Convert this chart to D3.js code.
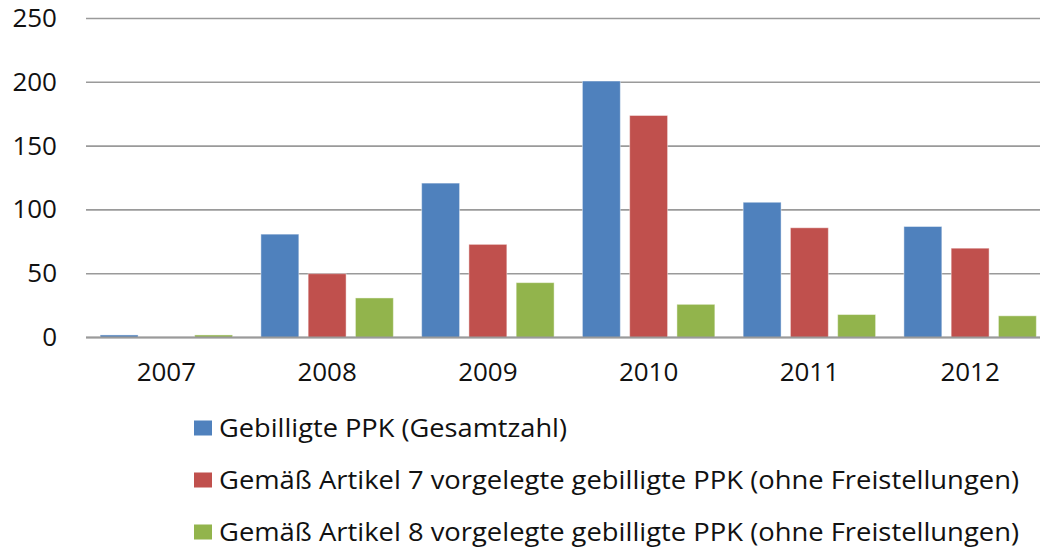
<!DOCTYPE html>
<html>
<head>
<meta charset="utf-8">
<script src="https://cdn.jsdelivr.net/npm/d3@7"></script>
<style>
  body { margin: 0; background: #fff; }
  svg { display: block; font-family: "Open Sans", sans-serif; }
</style>
</head>
<body>
<div id="chart"></div>
<script>
  // data
  const years = ["2007", "2008", "2009", "2010", "2011", "2012"];
  const seriesNames = [
    "Gebilligte PPK (Gesamtzahl)",
    "Gemäß Artikel 7 vorgelegte gebilligte PPK (ohne Freistellungen)",
    "Gemäß Artikel 8 vorgelegte gebilligte PPK (ohne Freistellungen)"
  ];
  const gesamt = [2, 81, 121, 201, 106, 87];
  const artikel7 = [0, 50, 73, 174, 86, 70];
  const artikel8 = [2, 31, 43, 26, 18, 17];
  const yTicks = [0, 50, 100, 150, 200, 250];
  const colors = ["#4f81bd", "#c0504d", "#92b44c"];

  const width = 1040;
  const height = 547;
  const plot = { left: 86, right: 1050.5, top: 18.5, bottom: 337.5 };

  const series = [gesamt, artikel7, artikel8];

  const svg = d3.select("#chart")
    .append("svg")
    .attr("width", width)
    .attr("height", height);

  const x = d3.scaleBand()
    .domain(years)
    .range([plot.left, plot.right]);

  const y = d3.scaleLinear()
    .domain([0, 250])
    .range([plot.bottom, plot.top]);

  // gridlines
  svg.append("g")
    .selectAll("line")
    .data(yTicks)
    .enter()
    .append("line")
    .attr("x1", plot.left)
    .attr("x2", width)
    .attr("y1", d => y(d))
    .attr("y2", d => y(d))
    .attr("stroke", "#9a9a9a")
    .attr("stroke-width", 1.6);

  // y labels
  svg.append("g")
    .selectAll("text")
    .data(yTicks)
    .enter()
    .append("text")
    .attr("x", 57)
    .attr("y", d => y(d) + 8.5)
    .attr("text-anchor", "end")
    .attr("font-size", 26)
    .attr("fill", "#111")
    .text(d => d);

  // bars
  const bw = x.bandwidth();
  const barW = bw * 0.236;
  const step = bw * 0.294;

  series.forEach((vals, i) => {
    svg.append("g")
      .selectAll("rect")
      .data(vals)
      .enter()
      .append("rect")
      .attr("x", (d, j) => x(years[j]) + bw / 2 + (i - 1) * step - barW / 2)
      .attr("y", d => y(d))
      .attr("width", barW)
      .attr("height", d => y(0) - y(d))
      .attr("fill", colors[i])
      .attr("stroke", "rgba(255,255,255,0.45)")
      .attr("stroke-width", 1);
  });

  // baseline over the bars
  svg.append("line")
    .attr("x1", plot.left)
    .attr("x2", width)
    .attr("y1", y(0))
    .attr("y2", y(0))
    .attr("stroke", "#9a9a9a")
    .attr("stroke-width", 1.8);

  // x labels
  svg.append("g")
    .selectAll("text")
    .data(years)
    .enter()
    .append("text")
    .attr("x", d => x(d) + bw / 2)
    .attr("y", 380.5)
    .attr("text-anchor", "middle")
    .attr("font-size", 26)
    .attr("fill", "#111")
    .text(d => d);

  // legend
  const legendEnds = [568, 1020, 1020];
  const legend = svg.append("g")
    .selectAll("g")
    .data(seriesNames)
    .enter()
    .append("g")
    .attr("transform", (d, i) => `translate(194,${428 + i * 52})`);

  legend.append("rect")
    .attr("x", 0)
    .attr("y", -7.5)
    .attr("width", 18)
    .attr("height", 15)
    .attr("fill", (d, i) => colors[i]);

  legend.append("text")
    .attr("x", 25)
    .attr("y", 9)
    .attr("font-size", 25)
    .attr("fill", "#111")
    .attr("textLength", (d, i) => legendEnds[i] - 194 - 26)
    .attr("lengthAdjust", "spacingAndGlyphs")
    .text(d => d);
</script>
</body>
</html>
